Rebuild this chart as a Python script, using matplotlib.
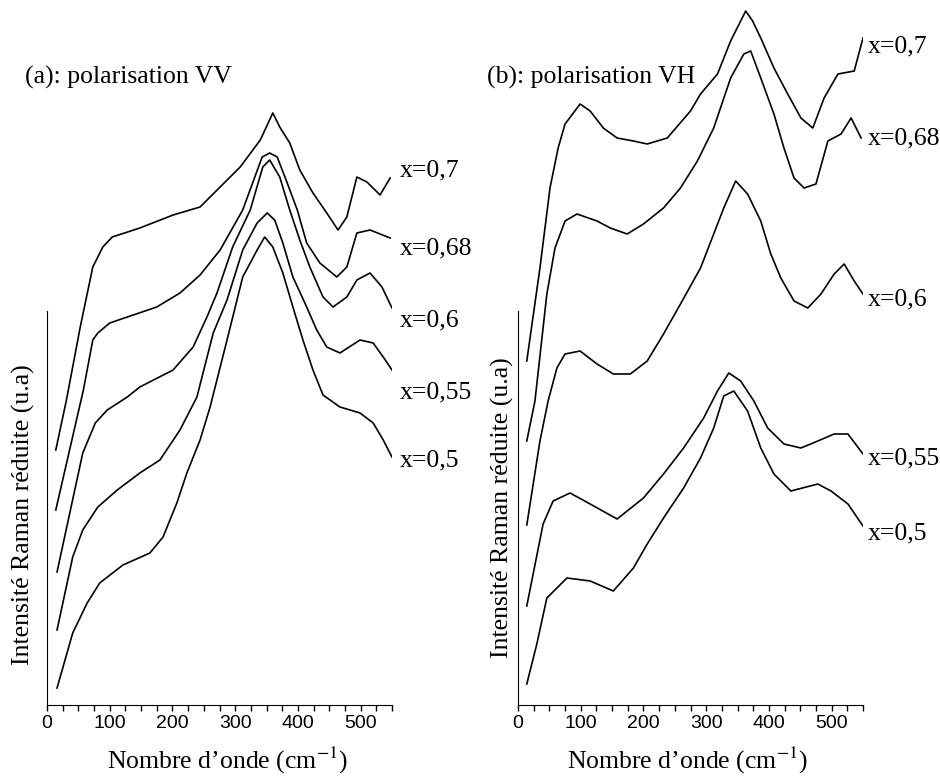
import matplotlib
matplotlib.use("Agg")
import matplotlib.pyplot as plt
from matplotlib.ticker import MultipleLocator

plt.rcParams["font.family"] = ["Liberation Serif", "DejaVu Serif"]
plt.rcParams["mathtext.fontset"] = "stix"

# (a) polarisation VV -- nombre d'onde (cm-1) / intensité (u.a)
vv_07_x = [14, 31, 53, 73, 89, 104, 148, 201, 244, 276, 308, 340, 360, 371, 387, 403, 424, 446, 464, 478, 494, 510, 531, 547]
vv_07_y = [255, 305, 378, 438, 458, 468, 477, 490, 498, 518, 538, 565, 592, 578, 562, 535, 512, 492, 475, 488, 528, 523, 510, 527]

vv_068_x = [14, 58, 73, 81, 100, 128, 175, 212, 244, 276, 312, 343, 355, 367, 383, 399, 414, 435, 462, 478, 494, 515, 547]
vv_068_y = [195, 315, 365, 372, 382, 388, 398, 412, 430, 455, 495, 548, 552, 548, 522, 495, 462, 442, 428, 438, 472, 475, 467]

vv_06_x = [16, 57, 77, 96, 128, 148, 201, 233, 255, 271, 296, 324, 344, 355, 371, 387, 403, 419, 440, 456, 478, 494, 515, 534, 550]
vv_06_y = [133, 252, 282, 295, 308, 318, 335, 358, 388, 412, 458, 495, 538, 545, 528, 495, 465, 438, 408, 398, 408, 425, 432, 418, 397]

vv_055_x = [16, 41, 57, 81, 112, 148, 180, 212, 239, 265, 287, 312, 335, 351, 363, 376, 392, 414, 430, 446, 467, 499, 520, 536, 550]
vv_055_y = [75, 148, 175, 198, 215, 232, 245, 275, 308, 372, 405, 455, 482, 492, 485, 462, 428, 398, 375, 358, 352, 365, 362, 348, 335]

vv_05_x = [16, 41, 64, 84, 121, 164, 185, 207, 223, 244, 260, 287, 312, 335, 347, 360, 376, 392, 408, 424, 440, 467, 499, 520, 536, 550]
vv_05_y = [17, 72, 102, 122, 140, 152, 168, 202, 232, 265, 298, 365, 428, 455, 468, 458, 432, 398, 365, 335, 310, 298, 292, 282, 265, 248]

# (b) polarisation VH
vh_07_x = [14, 35, 51, 64, 75, 99, 115, 136, 158, 184, 206, 238, 275, 291, 318, 339, 363, 374, 387, 408, 430, 451, 470, 488, 510, 536, 550]
vh_07_y = [344, 437, 517, 557, 581, 601, 594, 577, 567, 564, 561, 567, 594, 611, 631, 664, 694, 684, 667, 637, 611, 587, 577, 607, 631, 634, 667]

vh_068_x = [14, 27, 46, 59, 75, 94, 126, 147, 174, 200, 232, 259, 286, 312, 339, 360, 371, 387, 408, 424, 440, 456, 475, 494, 515, 531, 547]
vh_068_y = [264, 304, 411, 457, 484, 491, 484, 477, 471, 481, 497, 517, 544, 577, 627, 651, 654, 627, 591, 557, 527, 517, 521, 564, 571, 587, 567]

vh_06_x = [14, 35, 48, 62, 75, 99, 126, 152, 179, 206, 232, 259, 291, 312, 328, 347, 366, 387, 403, 419, 440, 462, 483, 504, 520, 536, 550]
vh_06_y = [180, 264, 304, 337, 351, 354, 341, 331, 331, 344, 371, 401, 437, 471, 497, 524, 511, 484, 451, 427, 404, 397, 411, 431, 441, 424, 411]

vh_055_x = [14, 40, 56, 83, 115, 158, 200, 232, 264, 296, 318, 336, 355, 376, 398, 424, 451, 478, 504, 526, 550]
vh_055_y = [99, 181, 204, 212, 201, 186, 207, 231, 257, 287, 314, 332, 324, 304, 277, 261, 257, 264, 271, 271, 251]

vh_05_x = [14, 30, 46, 78, 115, 152, 184, 206, 232, 264, 291, 312, 328, 344, 366, 387, 408, 435, 478, 499, 526, 550]
vh_05_y = [21, 61, 107, 127, 124, 114, 137, 161, 187, 217, 247, 277, 309, 314, 294, 257, 231, 214, 221, 214, 201, 179]

labels = ["x=0,7", "x=0,68", "x=0,6", "x=0,55", "x=0,5"]
vv_label_y = [535, 457, 385, 313, 245]
vh_label_y = [659, 567, 406, 247, 172]

vv_curves = [(vv_07_x, vv_07_y), (vv_068_x, vv_068_y), (vv_06_x, vv_06_y),
             (vv_055_x, vv_055_y), (vv_05_x, vv_05_y)]
vh_curves = [(vh_07_x, vh_07_y), (vh_068_x, vh_068_y), (vh_06_x, vh_06_y),
             (vh_055_x, vh_055_y), (vh_05_x, vh_05_y)]

fig = plt.figure(figsize=(9.4, 7.76), dpi=100)
W, H = 940, 776
FS = 18.5


def make_axes(left_px, title, curves, label_y, label_x, title_px):
    ax = fig.add_axes([left_px / W, 71 / H, 345 / W, 705 / H])
    for (x, y) in curves:
        ax.plot(x, y, color="black", lw=1.2)
    for lab, ly in zip(labels, label_y):
        ax.text(label_x, ly, lab, fontsize=FS, va="center", ha="left", clip_on=False)
    ax.set_xlim(0, 550)
    ax.set_ylim(0, 705)
    ax.spines["top"].set_visible(False)
    ax.spines["right"].set_visible(False)
    ax.spines["left"].set_bounds(0, 394)
    ax.set_yticks([])
    ax.xaxis.set_major_locator(MultipleLocator(100))
    ax.xaxis.set_minor_locator(MultipleLocator(25))
    ax.tick_params(axis="x", which="both", direction="out", length=4, width=1)
    for t in ax.get_xticklabels():
        t.set_fontfamily("Liberation Sans")
        t.set_fontsize(14)
    ax.patch.set_alpha(0)
    fig.text(title_px[0] / W, 1 - title_px[1] / H, title, fontsize=FS, va="center", ha="left")
    return ax


ax1 = make_axes(47, "(a): polarisation VV", vv_curves, vv_label_y, 563, (25, 77))
ax2 = make_axes(518, "(b): polarisation VH", vh_curves, vh_label_y, 557, (487, 77))

for cx in (228, 688):
    fig.text(cx / W, 1 - 760 / H, "Nombre d\u2019onde (cm$^{-1}$)", fontsize=FS,
             ha="center", va="center")
for cx, cy in ((23, 515), (502, 508)):
    fig.text(cx / W, 1 - cy / H, "Intensit\u00e9 Raman r\u00e9duite (u.a)", fontsize=FS,
             rotation=90, ha="center", va="center")

fig.savefig("out.png", dpi=100)
